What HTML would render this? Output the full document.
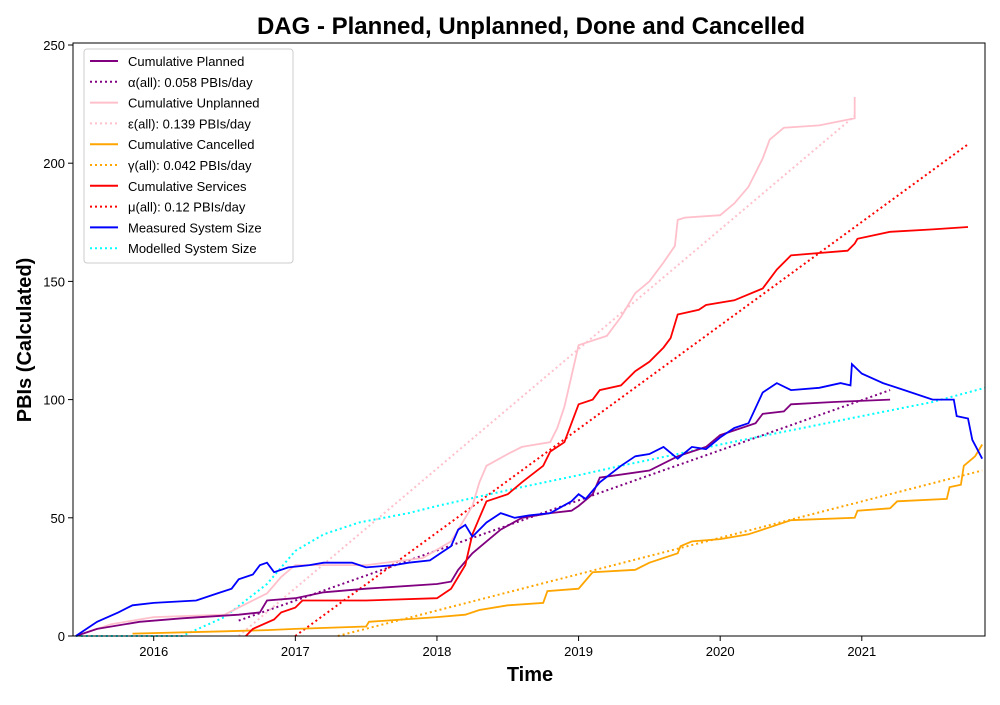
<!DOCTYPE html>
<html><head><meta charset="utf-8"><style>
body{margin:0;background:#fff;font-family:"Liberation Sans",sans-serif}
svg text{font-family:"Liberation Sans",sans-serif}
</style></head><body>
<svg id="c" width="1000" height="700" xmlns="http://www.w3.org/2000/svg">
<text x="531" y="34" text-anchor="middle" font-size="24" font-weight="bold">DAG - Planned, Unplanned, Done  and Cancelled</text>
<text x="530" y="681" text-anchor="middle" font-size="20" font-weight="bold">Time</text>
<text x="31" y="340" text-anchor="middle" font-size="20" font-weight="bold" transform="rotate(-90 31 340)">PBIs (Calculated)</text>
<g id="plot"></g>
<rect x="73" y="43" width="912" height="593" fill="none" stroke="#000" stroke-width="1"/>
</svg>
<script>
const xTicks=[2016,2017,2018,2019,2020,2021];
const yTicks=[0,50,100,150,200,250];
const planned=[[2015.45,0],[2015.6,3],[2015.9,6],[2016.2,7.5],[2016.6,9],[2016.75,10],[2016.8,15],[2017,16],[2017.2,18.5],[2017.5,20],[2018,22],[2018.1,23],[2018.15,28],[2018.25,35],[2018.35,40],[2018.45,45],[2018.6,50],[2018.8,52],[2018.95,53],[2019,55],[2019.1,60],[2019.15,67],[2019.5,70],[2019.7,76],[2019.9,80],[2020,85],[2020.15,88],[2020.25,90],[2020.3,94],[2020.45,95],[2020.5,98],[2020.8,99],[2021.2,100]];
const alphaFit=[[2016.6,6.5],[2021.2,104]];
const unplanned=[[2015.45,0],[2015.7,5],[2016,8],[2016.5,9],[2016.6,12],[2016.8,18],[2016.9,25],[2017,30],[2017.5,30],[2017.9,33],[2018.1,40],[2018.25,55],[2018.3,65],[2018.35,72],[2018.5,77],[2018.6,80],[2018.8,82],[2018.85,88],[2018.9,97],[2018.95,110],[2019,123],[2019.2,127],[2019.3,135],[2019.4,145],[2019.5,150],[2019.6,158],[2019.68,165],[2019.7,176],[2019.75,177],[2020,178],[2020.1,183],[2020.2,190],[2020.3,202],[2020.35,210],[2020.45,215],[2020.7,216],[2020.95,219],[2020.95,228]];
const epsFit=[[2016.6,0],[2020.95,220]];
const cancelled=[[2015.85,1],[2016.5,2],[2016.8,2.5],[2017,3],[2017.5,4],[2017.52,6],[2018,8],[2018.2,9],[2018.3,11],[2018.5,13],[2018.75,14],[2018.78,19],[2019,20],[2019.1,27],[2019.4,28],[2019.5,31],[2019.7,35],[2019.72,38],[2019.8,40],[2020,41],[2020.2,43],[2020.35,46],[2020.5,49],[2020.95,50],[2020.97,53],[2021.2,54],[2021.25,57],[2021.6,58],[2021.62,63],[2021.7,64],[2021.72,72],[2021.8,76],[2021.85,81]];
const gammaFit=[[2017.3,0],[2021.85,70]];
const services=[[2016.65,0],[2016.7,3],[2016.85,7],[2016.9,10],[2017,12],[2017.05,15],[2017.5,15],[2018,16],[2018.1,20],[2018.2,30],[2018.25,43],[2018.3,50],[2018.35,57],[2018.5,60],[2018.6,65],[2018.75,72],[2018.8,78],[2018.9,82],[2018.95,90],[2019,98],[2019.1,100],[2019.15,104],[2019.3,106],[2019.4,112],[2019.5,116],[2019.6,122],[2019.65,126],[2019.7,136],[2019.85,138],[2019.9,140],[2020.1,142],[2020.3,147],[2020.4,155],[2020.5,161],[2020.7,162],[2020.9,163],[2020.95,166],[2020.97,168],[2021.2,171],[2021.5,172],[2021.75,173]];
const muFit=[[2017,0],[2021.75,208]];
const measured=[[2015.45,0],[2015.6,6],[2015.75,10],[2015.85,13],[2016,14],[2016.3,15],[2016.45,18],[2016.55,20],[2016.6,24],[2016.7,26],[2016.75,30],[2016.8,31],[2016.85,27],[2016.95,29],[2017.1,30],[2017.2,31],[2017.4,31],[2017.5,29],[2017.7,30],[2017.8,31],[2017.95,32],[2018.05,36],[2018.1,38],[2018.15,45],[2018.2,47],[2018.25,42],[2018.35,48],[2018.45,52],[2018.55,50],[2018.65,51],[2018.8,52],[2018.95,57],[2019,60],[2019.05,58],[2019.15,65],[2019.3,72],[2019.4,76],[2019.5,77],[2019.6,80],[2019.7,75],[2019.8,80],[2019.9,79],[2020,84],[2020.1,88],[2020.2,90],[2020.3,103],[2020.4,107],[2020.5,104],[2020.7,105],[2020.85,107],[2020.92,106],[2020.93,115],[2021,111],[2021.15,107],[2021.3,104],[2021.5,100],[2021.65,100],[2021.67,93],[2021.75,92],[2021.78,83],[2021.85,75]];
const modelled=[[2015.45,0],[2016.2,0],[2016.5,8],[2016.8,22],[2017,36],[2017.2,43],[2017.45,48],[2017.8,52],[2018,55],[2018.3,59],[2018.6,63],[2019,68],[2019.3,72],[2019.7,77],[2020,81],[2020.5,87],[2021,93],[2021.5,99],[2021.87,105]];
const legendLabels=["Cumulative Planned","α(all): 0.058 PBIs/day","Cumulative Unplanned","ε(all): 0.139 PBIs/day","Cumulative Cancelled","γ(all): 0.042 PBIs/day","Cumulative Services","μ(all): 0.12 PBIs/day","Measured System Size","Modelled System Size"];

const NS="http://www.w3.org/2000/svg";
const X0=73,X1=985,xmin=2015.43,xmax=2021.87,Y0=636,Y1=45;
const xs=v=>X0+(v-xmin)/(xmax-xmin)*(X1-X0);
const ys=v=>Y0-v/250*(Y0-Y1);
const plot=document.getElementById('plot');
function mk(t,a,p){const e=document.createElementNS(NS,t);for(const k in a)e.setAttribute(k,a[k]);(p||plot).appendChild(e);return e;}
xTicks.forEach(t=>{const x=xs(t);
 const l=mk('line',{x1:x,x2:x,y1:636,y2:641,stroke:'#000'});
 
 
 const tx=mk('text',{x:x,y:656,'text-anchor':'middle','font-size':13});tx.textContent=t;
 
 });
yTicks.forEach(t=>{const y=ys(t);
 const l=mk('line',{x1:68,x2:73,y1:y,y2:y,stroke:'#000'});
 
 
 const tx=mk('text',{x:65,y:y+5,'text-anchor':'end','font-size':13});tx.textContent=t;
 
 });
const series=[[planned,'purple',0,'planned-line'],[alphaFit,'purple',1,'alpha-fit-line'],[unplanned,'pink',0,'unplanned-line'],[epsFit,'pink',1,'epsilon-fit-line'],[cancelled,'orange',0,'cancelled-line'],[gammaFit,'orange',1,'gamma-fit-line'],[services,'red',0,'services-line'],[muFit,'red',1,'mu-fit-line'],[measured,'blue',0,'measured-size-line'],[modelled,'cyan',1,'modelled-size-line']];
const order=[1,3,5,7,9,2,0,4,6,8];
order.forEach(i=>{const [d,c,dot,n]=series[i];
 const p=mk('polyline',{points:d.map(q=>xs(q[0]).toFixed(1)+','+ys(q[1]).toFixed(1)).join(' '),fill:'none',stroke:c,'stroke-width':dot?2:1.8,'stroke-dasharray':dot?'2,3':'none'});
 
 });
const lg=mk('g',{});


mk('rect',{x:84,y:49,width:209,height:214,fill:'#fff',stroke:'#ccc',rx:3},lg);
series.forEach((s,i)=>{const y=61+i*20.8;
 const l=mk('line',{x1:90,x2:118,y1:y,y2:y,stroke:s[1],'stroke-width':2,'stroke-dasharray':s[2]?'2,3':'none'},lg);
 
 
 const t=mk('text',{x:128,y:y+5,'font-size':13},lg);t.textContent=legendLabels[i];
 
 });
</script>
</body></html>
